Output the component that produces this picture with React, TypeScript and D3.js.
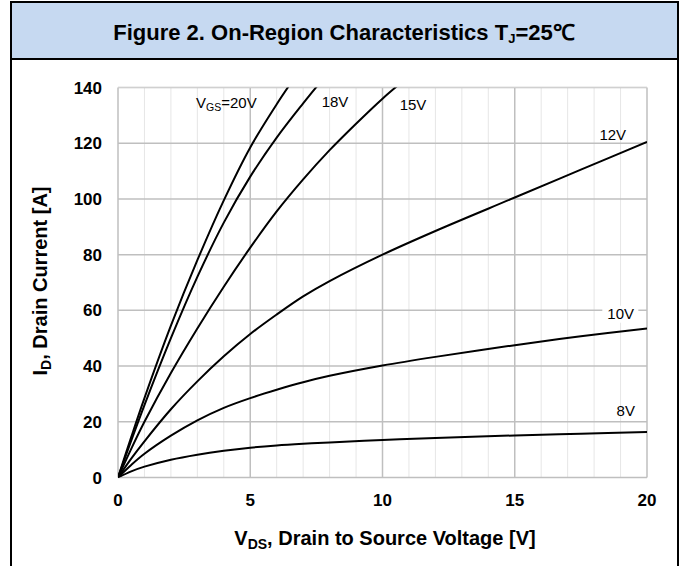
import React from "react";
import * as d3 from "d3";

const vgsLabels = ["20V", "18V", "15V", "12V", "10V", "8V"];
const vds20 = [0, 0.5, 1, 2, 3, 4, 5, 6, 6.6];
const id20 = [0, 14.5, 28.5, 54.5, 78, 99.5, 118.5, 134, 142.5];
const vds18 = [0, 0.5, 1, 2, 3, 4, 5, 6, 7, 7.7];
const id18 = [0, 13.2, 26, 50, 72, 91.5, 108, 122, 134.3, 142.5];
const vds15 = [0, 0.5, 1, 2, 3, 4, 5, 6, 7, 8, 9, 10, 10.8];
const id15 = [0, 10.3, 20, 37.5, 53.5, 68.5, 82.5, 95.5, 107, 117.5, 127, 136, 142.5];
const vds12 = [0, 0.5, 1, 2, 3, 4, 5, 6, 7, 8, 10, 12, 15, 17.5, 20];
const id12 = [0, 6.8, 13, 24.5, 34.5, 43.5, 51.5, 58.5, 65, 70.5, 80, 88.5, 100.5, 110.5, 120.5];
const vds10 = [0, 0.5, 1, 2, 3, 4, 5, 6, 7, 8, 10, 12, 15, 17.5, 20];
const id10 = [0, 4.5, 8.5, 15, 20.5, 25, 28.5, 31.5, 34.2, 36.5, 40.2, 43.3, 47.5, 50.7, 53.5];
const vds8 = [0, 0.5, 1, 2, 3, 4, 5, 6, 7, 8, 10, 12, 15, 17.5, 20];
const id8 = [0, 2.2, 3.9, 6.4, 8.2, 9.6, 10.7, 11.5, 12.1, 12.6, 13.5, 14.2, 15.1, 15.7, 16.3];

const xTicks = [0, 5, 10, 15, 20];
const yTicks = [0, 20, 40, 60, 80, 100, 120, 140];
const xMinor = d3.range(0, 21, 1);

// label anchors in data coordinates (V, A)
const labelAnchors: [number, number][] = [
  [2.95, 132.5],
  [7.7, 133],
  [10.65, 132],
  [18.2, 121],
  [18.5, 57],
  [18.85, 22],
];

const series = [
  { name: vgsLabels[0], x: vds20, y: id20 },
  { name: vgsLabels[1], x: vds18, y: id18 },
  { name: vgsLabels[2], x: vds15, y: id15 },
  { name: vgsLabels[3], x: vds12, y: id12 },
  { name: vgsLabels[4], x: vds10, y: id10 },
  { name: vgsLabels[5], x: vds8, y: id8 },
];

const FONT = "'Liberation Sans', Arial, sans-serif";

export default function App() {
  const W = 683;
  const H = 566;
  const left = 118, right = 647, top = 87.5, bottom = 477.5;
  const x = d3.scaleLinear().domain([0, 20]).range([left, right]);
  const y = d3.scaleLinear().domain([0, 140]).range([bottom, top]);
  const line = d3
    .line<[number, number]>()
    .x((d) => x(d[0]))
    .y((d) => y(d[1]))
    .curve(d3.curveCatmullRom.alpha(0.5));

  return (
    <svg
      width={W}
      height={H}
      style={{ position: "absolute", left: 0, top: 0, background: "#fff" }}
      fontFamily={FONT}
    >
      <defs>
        <clipPath id="plotclip">
          <rect x={left} y={top} width={right - left} height={bottom - top} />
        </clipPath>
      </defs>
      {/* title band */}
      <rect x={11} y={2} width={667} height={57} fill="#C6D9F1" />
      <line x1={11} x2={678} y1={59} y2={59} stroke="#000" strokeWidth={2} />
      <line x1={11} x2={678} y1={2} y2={2} stroke="#000" strokeWidth={2} />
      <line x1={11} x2={11} y1={1} y2={H} stroke="#000" strokeWidth={2} />
      <line x1={678} x2={678} y1={1} y2={H} stroke="#000" strokeWidth={2} />
      <text x={344} y={40} textAnchor="middle" fontSize={22} fontWeight="bold" fill="#000">
        Figure 2. On-Region Characteristics T
        <tspan fontSize={13} dy={3}>J</tspan>
        <tspan dy={-3}>=25℃</tspan>
      </text>

      {/* minor vertical grid */}
      {xMinor
        .filter((v) => v % 5 !== 0)
        .map((v) => (
          <line key={"mv" + v} x1={x(v)} x2={x(v)} y1={top} y2={bottom} stroke="#E6E6E6" strokeWidth={1} />
        ))}
      {/* major grid */}
      {xTicks.map((v) => (
        <line key={"xv" + v} x1={x(v)} x2={x(v)} y1={top} y2={bottom} stroke="#BFBFBF" strokeWidth={1.5} />
      ))}
      {yTicks.map((v) => (
        <line key={"yh" + v} x1={left} x2={right} y1={y(v)} y2={y(v)} stroke="#BFBFBF" strokeWidth={1.5} />
      ))}
      <line x1={left} x2={right} y1={top} y2={top} stroke="#D0D0D0" strokeWidth={1} />

      {/* curves */}
      <g clipPath="url(#plotclip)">
        {series.map((s) => (
          <path
            key={s.name}
            d={line(s.x.map((v, i) => [v, s.y[i]] as [number, number])) || ""}
            fill="none"
            stroke="#000"
            strokeWidth={2}
          />
        ))}
      </g>

      {/* curve labels */}
      {series.map((s, i) => {
        const [lv, li] = labelAnchors[i];
        if (i === 0) {
          return (
            <text key={"l" + i} x={x(lv)} y={y(li)} fontSize={15} fill="#000">
              V<tspan fontSize={10.5} dy={3}>GS</tspan>
              <tspan dy={-3}>=20V</tspan>
            </text>
          );
        }
        if (i === 4) {
          return (
            <g key={"l" + i}>
              <rect x={x(lv) - 5} y={y(li) - 13} width={36} height={17} fill="#fff" />
              <text x={x(lv)} y={y(li)} fontSize={15} fill="#000">
                {s.name}
              </text>
            </g>
          );
        }
        return (
          <text key={"l" + i} x={x(lv)} y={y(li)} fontSize={15} fill="#000">
            {s.name}
          </text>
        );
      })}

      {/* tick labels */}
      {xTicks.map((v) => (
        <text key={"xt" + v} x={x(v)} y={506} textAnchor="middle" fontSize={17} fontWeight="bold">
          {v}
        </text>
      ))}
      {yTicks.map((v) => (
        <text key={"yt" + v} x={102} y={y(v) + 6} textAnchor="end" fontSize={17} fontWeight="bold">
          {v}
        </text>
      ))}

      {/* axis titles */}
      <text x={385} y={545} textAnchor="middle" fontSize={20} fontWeight="bold">
        V<tspan fontSize={14} dy={4}>DS</tspan>
        <tspan dy={-4}>, Drain to Source Voltage [V]</tspan>
      </text>
      <text transform={`translate(47, 281) rotate(-90)`} textAnchor="middle" fontSize={20} fontWeight="bold">
        I<tspan fontSize={14} dy={4}>D</tspan>
        <tspan dy={-4}>, Drain Current [A]</tspan>
      </text>
    </svg>
  );
}
